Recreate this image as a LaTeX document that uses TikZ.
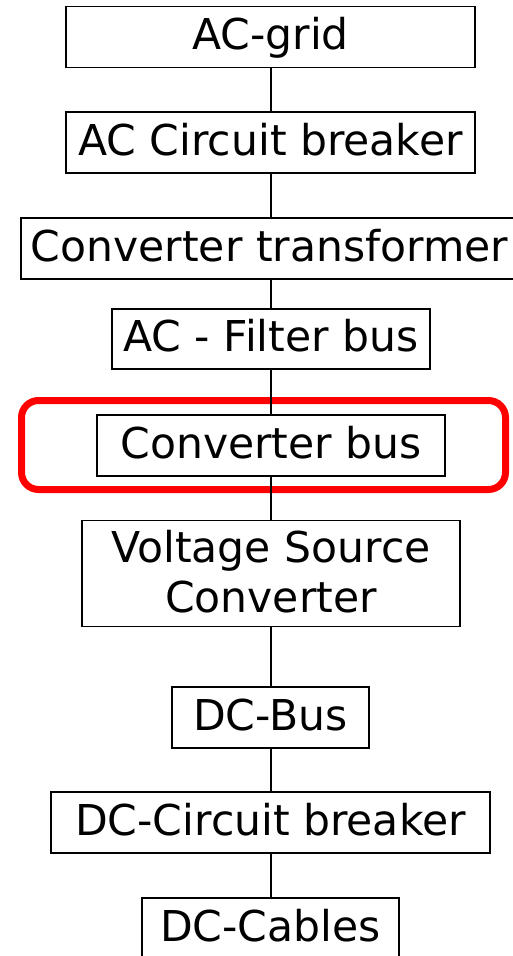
\documentclass[tikz,border=0pt]{standalone}
\usepackage{fontspec}
\setmainfont{DejaVu Sans}
\begin{document}
\begin{tikzpicture}[x=1pt,y=-1pt,
  blk/.style={draw=black,line width=1.7pt,fill=white,inner sep=0pt,align=center,
    text height=34pt,text depth=9pt,
    font=\fontsize{42.5}{50}\selectfont},
  conn/.style={draw=black,line width=2pt}]
\useasboundingbox (0,0) rectangle (512,956);
\draw[red,line width=7pt,rounded corners=17pt] (21.5,400.5) rectangle (505.5,489.5);
\node[blk,minimum width=409pt,minimum height=61pt] (g) at (270.5,37) {AC-grid};
\node[blk,minimum width=409pt,minimum height=61pt] (acb) at (270.5,142.5) {AC Circuit breaker};
\node[blk,minimum width=497pt,minimum height=61pt] (ct) at (269.5,248.5) {Converter transformer};
\node[blk,minimum width=318pt,minimum height=60pt] (fb) at (271,339) {AC - Filter bus};
\node[blk,minimum width=348pt,minimum height=61pt] (cb) at (271,445.5) {Converter bus};
\node[blk,minimum width=378pt,minimum height=106pt,text height=86pt,text depth=9pt] (vsc) at (271,573.5) {Voltage Source\\Converter};
\node[blk,minimum width=197pt,minimum height=61pt] (dcb) at (270.5,717.5) {DC-Bus};
\node[blk,minimum width=439pt,minimum height=61pt] (dccb) at (270.5,822.5) {DC-Circuit breaker};
\node[blk,minimum width=257pt,minimum height=62pt] (dcc) at (270.5,929) {DC-Cables};
\foreach \a/\b in {g/acb,acb/ct,ct/fb,fb/cb,cb/vsc,vsc/dcb,dcb/dccb,dccb/dcc}
  \draw[conn] (\a.south -| 270.7,0) -- (\b.north -| 270.7,0);
\end{tikzpicture}
\end{document}
